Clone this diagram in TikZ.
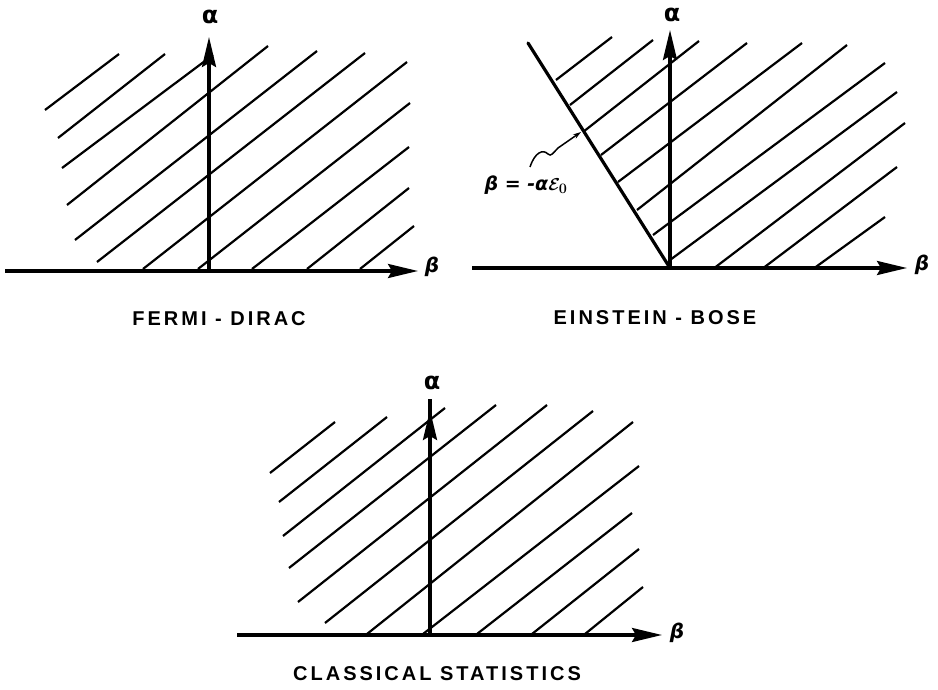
\documentclass[tikz,border=0pt]{standalone}
\usepackage{fontspec}
\usepackage{amsmath}
\newfontfamily\lettering[LetterSpace=15]{Liberation Sans}
\newfontfamily\greekfont{DejaVu Sans}
\usetikzlibrary{arrows.meta,positioning,calc}

\begin{document}
\begin{tikzpicture}[x=1pt,y=-1pt,
    axis/.style={line width=3.2pt,
      -{Stealth[length=30pt,width=14pt,inset=4pt]}},
    bound/.style={line width=3.2pt},
    hatch/.style={line width=2.2pt},
    lead/.style={line width=1.5pt,
      -{Stealth[length=8pt,width=5pt]}},
    caption/.style={font=\lettering\bfseries\fontsize{20}{22}\selectfont},
    alab/.style={font=\greekfont\bfseries\fontsize{24}{26}\selectfont},
    blab/.style={font=\greekfont\bfseries\itshape\fontsize{20}{22}\selectfont}]
  \useasboundingbox (0,0) rectangle (938,690);

  % Fermi-Dirac
  \coordinate (fdO) at (209,271);
  \coordinate (fdL) at (5,271);
  \coordinate (fdB) at (418,271);
  \coordinate (fdA) at (209,37);
  \foreach \xa/\ya/\xb/\yb in {45/110/119/54, 58/138/165/54, 62/168/213/55,
      67/205/268/46, 75/240/317/51, 97/262/365/53, 143/269/407/62,
      198/269/410/103, 252/269/409/147, 307/269/409/188, 360/269/414/226}
    \draw[hatch] (\xa,\ya) -- (\xb,\yb);
  \draw[bound] (fdL) -- (fdO);
  \draw[axis] (fdO) -- (fdB);
  \draw[axis] (fdO) -- (fdA);
  \node[alab] (fdAlpha) at (210,17) {α};
  \node[blab] (fdBeta) at (432,267) {β};
  \node[caption] (fdCap) at (219,319) {FERMI - DIRAC};

  % Einstein-Bose
  \coordinate (ebO) at (670,268);
  \coordinate (ebL) at (472,268);
  \coordinate (ebB) at (907,268);
  \coordinate (ebA) at (670,30);
  \coordinate (ebTop) at (528,43);
  \foreach \xa/\ya/\xb/\yb in {556/80/612/37, 570/105/653/40, 583/132/699/41,
      601/155/747/43, 618/182/802/43, 637/210/847/45, 653/235/885/63,
      670/260/897/92, 713/269/905/123, 762/269/897/167, 813/269/885/217}
    \draw[hatch] (\xa,\ya) -- (\xb,\yb);
  \draw[bound] (ebL) -- (ebO);
  \draw[bound, line cap=round] (ebTop) -- (ebO);
  \draw[axis] (ebO) -- (ebB);
  \draw[axis] (ebO) -- (ebA);
  \node[alab] (ebAlpha) at (672,15) {α};
  \node[blab] (ebBeta) at (922,265) {β};
  \node[font=\greekfont\bfseries\itshape\fontsize{19}{22}\selectfont]
    (ebEq) at (526,185) {β = -α{\boldmath$\mathcal{E}_0$}};
  \coordinate (ebLead) at (530,167);
  \coordinate (ebHit) at (581,132);
  \draw[lead] (ebLead) .. controls (535,152) and (543,149) .. (548,154)
    .. controls (551,157) and (553,153) .. (558,148) -- (ebHit);
  \node[caption] (ebCap) at (655,318) {EINSTEIN - BOSE};

  % Classical statistics
  \coordinate (csO) at (430,635);
  \coordinate (csL) at (237,635);
  \coordinate (csB) at (662,635);
  \coordinate (csA) at (430,410);
  \coordinate (csStub) at (430,399);
  \foreach \xa/\ya/\xb/\yb in {270/473/335/422, 279/502/387/417, 283/536/445/408,
      289/568/496/405, 298/602/547/405, 325/623/593/411, 367/634/633/422,
      423/634/639/466, 477/634/632/513, 532/634/639/549, 585/634/643/587}
    \draw[hatch] (\xa,\ya) -- (\xb,\yb);
  \draw[bound] (csL) -- (csO);
  \draw[bound] (csO) -- (csStub);
  \draw[axis] (csO) -- (csB);
  \draw[axis] (csO) -- (csA);
  \node[alab] (csAlpha) at (432,383) {α};
  \node[blab] (csBeta) at (677,633) {β};
  \node[caption] (csCap) at (437,674) {CLASSICAL STATISTICS};
\end{tikzpicture}
\end{document}
